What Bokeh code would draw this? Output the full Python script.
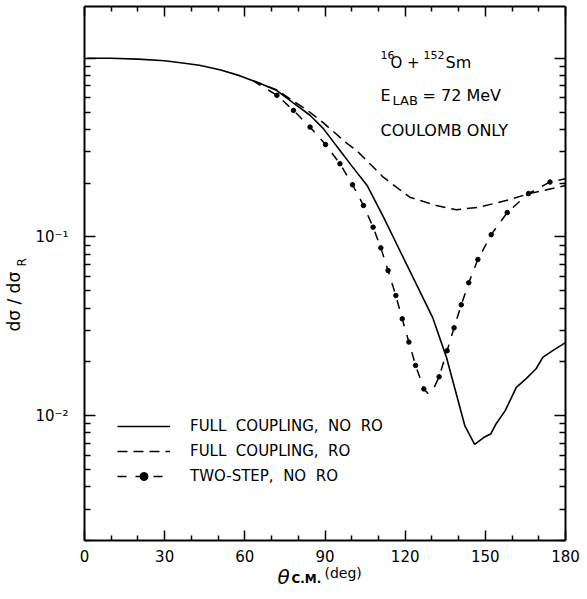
import math
from bokeh.plotting import figure
from bokeh.models import (Range1d, LinearAxis, LogAxis, FixedTicker,
                          CustomJSTickFormatter, Label, Legend, LegendItem)
from bokeh.embed import file_html
from bokeh.resources import INLINE

# ---------------- data ----------------
theta_full_nro = [1, 10, 20, 30, 36, 43, 51, 58, 66, 72, 78, 84.4, 89.4, 95.6,
                  100, 105.7, 111.8, 118, 130.3, 135.5, 142.3, 146.0, 149.5,
                  152.0, 154.0, 157.5, 161.6, 165.3, 169.0, 171.5, 175.2, 180]
sigma_full_nro = [1.0, 1.0, 0.99, 0.97, 0.945, 0.915, 0.86, 0.80, 0.72, 0.66,
                  0.565, 0.48, 0.404, 0.305, 0.25, 0.195, 0.13, 0.084, 0.0354,
                  0.0211, 0.0088, 0.0069, 0.00756, 0.00789, 0.00898, 0.0107,
                  0.0144, 0.0161, 0.0183, 0.0212, 0.0231, 0.0256]

theta_full_ro = [63, 72, 78.2, 83.2, 89.4, 98.1, 101.8, 109.3, 111.8, 121.7,
                 131.7, 139.2, 147.9, 157.8, 166.5, 180]
sigma_full_ro = [0.75, 0.665, 0.575, 0.515, 0.435, 0.335, 0.305, 0.236, 0.216,
                 0.167, 0.150, 0.142, 0.147, 0.160, 0.175, 0.194]

theta_two_step = [63, 72, 78.2, 84.4, 90.2, 95.6, 100.3, 104.4, 108.0, 110.9,
                  113.6, 116.5, 118.9, 121.4, 123.9, 127.0, 128.6, 130.7, 132.7,
                  135.7, 138.3, 141.0, 143.8, 147.2, 152.2, 158.2, 166.2, 174.2, 180]
sigma_two_step = [0.75, 0.621, 0.511, 0.412, 0.329, 0.257, 0.196, 0.150, 0.1135,
                  0.0869, 0.0649, 0.0470, 0.0348, 0.0258, 0.0191, 0.0141, 0.0133,
                  0.0142, 0.0165, 0.0231, 0.0310, 0.0417, 0.0554, 0.0748, 0.103,
                  0.137, 0.175, 0.203, 0.212]

theta_two_step_dots = [72, 78.2, 84.4, 90.2, 95.6, 100.3, 104.4, 108.0, 110.9,
                       113.6, 116.5, 118.9, 121.4, 123.9, 127.0, 132.7, 135.7,
                       138.3, 141.0, 143.8, 147.2, 152.2, 158.2, 166.2, 174.2]
sigma_two_step_dots = [0.621, 0.511, 0.412, 0.329, 0.257, 0.196, 0.150, 0.1135,
                       0.0869, 0.0649, 0.0470, 0.0348, 0.0258, 0.0191, 0.0141,
                       0.0165, 0.0231, 0.0310, 0.0417, 0.0554, 0.0748, 0.103,
                       0.137, 0.175, 0.203]

series_names = ["FULL  COUPLING,  NO  RO", "FULL  COUPLING,  RO", "TWO-STEP,  NO  RO"]

x_ticks = [0, 30, 60, 90, 120, 150, 180]
x_tick_labels = ["0", "30", "60", "90", "120", "150", "180"]
x_minor_ticks = [10, 20, 40, 50, 70, 80, 100, 110, 130, 140, 160, 170]
y_ticks = [1.0, 0.1, 0.01]
y_tick_labels = ["", "10\u207b\u00b9", "10\u207b\u00b2"]
y_minor_ticks = [k * 10.0 ** e for e in (-3, -2, -1) for k in range(2, 10)]

X_MIN, X_MAX = 0, 180
Y_MIN, Y_MAX = 0.002, 1.95

FONT = "DejaVu Sans"

# ---------------- geometry ----------------
W, H = 580, 595
FL, FR, FT, FB = 84, 565, 6, 540   # plot box edges in canvas pixels


def X(px):
    return X_MIN + (px - FL) / (FR - FL) * (X_MAX - X_MIN)


def Y(py):
    lo, hi = math.log10(Y_MIN), math.log10(Y_MAX)
    return 10 ** (lo + (FB - py) / (FB - FT) * (hi - lo))


# the drawing frame covers the whole canvas; the box is drawn by fixed axes
p = figure(width=W, height=H, y_axis_type="log",
           x_range=Range1d(X(0), X(W)), y_range=Range1d(Y(H), Y(0)),
           output_backend="svg", toolbar_location=None,
           min_border_left=0, min_border_right=0,
           min_border_top=0, min_border_bottom=0)
p.xgrid.visible = False
p.ygrid.visible = False
p.outline_line_color = None
p.background_fill_color = "white"
p.border_fill_color = "white"

LAB_JS = """
const i = vals.findIndex(v => Math.abs(v - tick) <= 1e-9 * Math.max(1, Math.abs(v)));
return i >= 0 ? labs[i] : "";
"""


def style_axis(ax, major_in, minor_in):
    ax.major_tick_in = major_in
    ax.major_tick_out = 0
    ax.minor_tick_in = minor_in
    ax.minor_tick_out = 0
    ax.axis_line_width = 2
    ax.major_tick_line_width = 1.5
    ax.minor_tick_line_width = 1.5
    ax.major_label_text_font = FONT
    ax.major_label_text_font_size = "15px"
    ax.major_label_text_color = "black"


xa = p.xaxis[0]
xa.ticker = FixedTicker(ticks=x_ticks, minor_ticks=x_minor_ticks)
xa.formatter = CustomJSTickFormatter(args=dict(vals=x_ticks, labs=x_tick_labels), code=LAB_JS)
style_axis(xa, 10, 5)
xa.major_label_standoff = 9
xa.fixed_location = Y_MIN
xa.bounds = (X_MIN, X_MAX)

ya = p.yaxis[0]
ya.ticker = FixedTicker(ticks=y_ticks, minor_ticks=y_minor_ticks)
ya.formatter = CustomJSTickFormatter(args=dict(vals=y_ticks, labs=y_tick_labels), code=LAB_JS)
style_axis(ya, 11, 6)
ya.major_label_standoff = 16
ya.fixed_location = X_MIN
ya.bounds = (Y_MIN, Y_MAX)

top = LinearAxis(ticker=FixedTicker(ticks=x_ticks, minor_ticks=x_minor_ticks),
                 formatter=CustomJSTickFormatter(code="return ''"))
style_axis(top, 10, 5)
top.major_label_standoff = 0
top.major_label_text_font_size = "0px"
top.fixed_location = Y_MAX
top.bounds = (X_MIN, X_MAX)
p.add_layout(top, "above")

right = LogAxis(ticker=FixedTicker(ticks=y_ticks, minor_ticks=y_minor_ticks),
                formatter=CustomJSTickFormatter(code="return ''"))
style_axis(right, 11, 6)
right.major_label_standoff = 0
right.major_label_text_font_size = "0px"
right.fixed_location = X_MAX
right.bounds = (Y_MIN, Y_MAX)
p.add_layout(right, "right")

# ---------------- curves ----------------
r1 = p.line(theta_full_nro, sigma_full_nro, line_color="black", line_width=1.6)
r2 = p.line(theta_full_ro, sigma_full_ro, line_color="black", line_width=1.5,
            line_dash="10 6")
r3 = p.line(theta_two_step, sigma_two_step, line_color="black", line_width=1.5,
            line_dash="9 9")
r3d = p.scatter(theta_two_step_dots, sigma_two_step_dots, size=4.5,
                fill_color="black", line_color="black")

LEG_ROWS, LEG_ROW_H, LEG_GAP = 3, 20, 5
leg_height = LEG_ROWS * LEG_ROW_H + (LEG_ROWS - 1) * LEG_GAP
legend = Legend(items=[LegendItem(label=series_names[0], renderers=[r1]),
                       LegendItem(label=series_names[1], renderers=[r2]),
                       LegendItem(label=series_names[2], renderers=[r3, r3d])],
                location=(117, H - 416 - leg_height), background_fill_alpha=0,
                border_line_alpha=0, padding=0, margin=0, spacing=LEG_GAP,
                glyph_width=53, glyph_height=LEG_ROW_H, label_height=LEG_ROW_H,
                label_standoff=20, label_text_font=FONT,
                label_text_font_size="15px", label_text_color="black")
p.add_layout(legend)

# ---------------- text annotations ----------------


def txt(px, py, s, size, style="normal", angle=0.0):
    p.add_layout(Label(x=X(px), y=Y(py), text=s, text_font=FONT,
                       text_font_size=f"{size}px", text_font_style=style,
                       text_color="black", text_align="left",
                       text_baseline="alphabetic", angle=angle))


# reaction / conditions
txt(380, 54, "16", 11)
txt(390, 62, "O +", 15)
txt(423, 54, "152", 11)
txt(445, 62, "Sm", 16)
txt(380, 95, "E", 16)
txt(392, 100, "LAB", 13)
txt(422, 95, "= 72  MeV", 16)
txt(380, 130, "COULOMB  ONLY", 16)

# x-axis title
txt(277, 576, "\u03b8", 20, "italic")
txt(291, 578, "C.M.", 12, "bold")
txt(324, 572, "(deg)", 14)

# y-axis title (rotated)
txt(13, 331, "d\u03c3  /  d\u03c3", 17, angle=math.pi / 2)
txt(21, 266, "R", 12, angle=math.pi / 2)

open("out.html", "w").write(file_html(p, INLINE))
